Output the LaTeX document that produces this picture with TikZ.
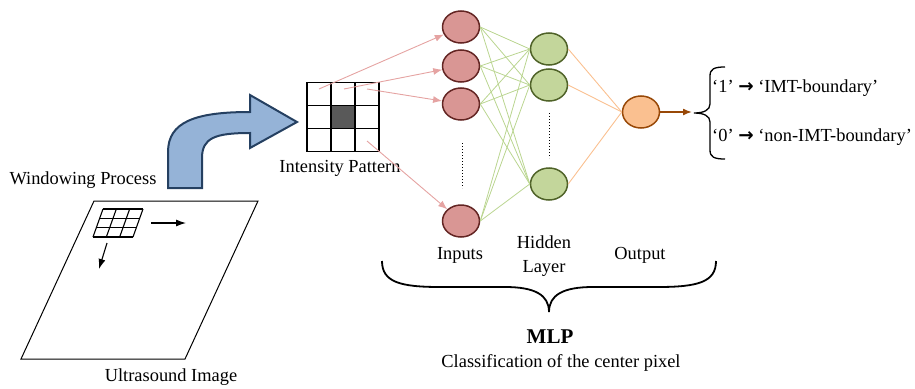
\documentclass[tikz,border=0pt]{standalone}
\usepackage{fontspec}
\setmainfont{Liberation Serif}
\newfontfamily\arrowfont{DejaVu Sans}
\usepackage{xcolor}
\usepackage{tikz}
\usetikzlibrary{arrows.meta}
\usetikzlibrary{shapes.geometric}

\definecolor{inpfill}{HTML}{D99694}
\definecolor{inpdraw}{HTML}{632523}
\definecolor{hidfill}{HTML}{C3D69B}
\definecolor{hiddraw}{HTML}{4F6228}
\definecolor{outfill}{HTML}{FAC090}
\definecolor{outdraw}{HTML}{984807}
\definecolor{redline}{HTML}{E5A3A2}
\definecolor{greenline}{HTML}{BAD590}
\definecolor{orangeline}{HTML}{FAC090}
\definecolor{bluefill}{HTML}{95B3D7}
\definecolor{bluedraw}{HTML}{254061}
\definecolor{gridgray}{HTML}{595959}

\begin{document}
\begin{tikzpicture}[x=1pt,y=-1pt,
    every node/.style={font=\fontsize{18.4}{24}\selectfont, inner sep=0pt},
    neuron/.style={ellipse, minimum width=37pt, minimum height=32pt, line width=1.5pt},
    inp/.style={neuron, fill=inpfill, draw=inpdraw},
    hid/.style={neuron, fill=hidfill, draw=hiddraw},
    outp/.style={neuron, fill=outfill, draw=outdraw},
    cell/.style={draw, line width=1.6pt, minimum width=24pt, minimum height=23pt},
    redarrow/.style={draw=redline, line width=0.9pt, -{Latex[length=9pt,width=7pt]}},
    greenlink/.style={draw=greenline, line width=0.8pt},
    orangelink/.style={draw=orangeline, line width=0.9pt},
    movearrow/.style={line width=1.1pt, -{Latex[length=10pt,width=7pt]}},
    vdots/.style={line width=0.9pt, dash pattern=on 1pt off 2pt}]
    \useasboundingbox (0,0) rectangle (915,388);

    % Image ultrason
    \draw[line width=1pt] (94,201) -- (258,201) -- (185,359) -- (21,359) -- cycle;
    \foreach \k in {0,1,2,3} {
        \draw[line width=1.1pt] ({103+\k*40/3},209) -- ({93+\k*40/3},237);
        \draw[line width=1.1pt] ({103-\k*10/3},{209+\k*28/3}) -- ({143-\k*10/3},{209+\k*28/3});
    }
    \coordinate (ra) at (151,223);
    \coordinate (rb) at (186,223);
    \coordinate (da) at (107,243);
    \coordinate (db) at (99,269);
    \draw[movearrow] (ra) -- (rb);
    \draw[movearrow] (da) -- (db);
    \node (win) at (83,180) {Windowing Process};
    \node (us) at (171,377) {Ultrasound Image};

    % Fleche courbe
    \draw[fill=bluefill, draw=bluedraw, line width=2pt, line join=miter]
        (168,188) -- (168,152) .. controls (168,122) and (195,112) .. (250,112)
        -- (250,95) -- (297,122) -- (250,148) -- (250,133)
        .. controls (215,133) and (202,138) .. (202,158) -- (202,188) -- cycle;

    % Motif d'intensite
    \foreach \r in {1,2,3} {
        \foreach \c in {1,2,3} {
            \ifnum\r\c=22 \def\cellcol{gridgray}\else\def\cellcol{white}\fi
            \node[cell, fill=\cellcol] (c\r\c) at ({295+24*\c},{71+23*\r}) {};
        }
    }
    \node (pat) at (340,168) {Intensity Pattern};

    % Neurones
    \node[inp] (i1) at (461,27) {};
    \node[inp] (i2) at (461,66) {};
    \node[inp] (i3) at (461,104) {};
    \node[inp] (i4) at (461,221) {};
    \node[hid] (h1) at (549,49) {};
    \node[hid] (h2) at (549,85) {};
    \node[hid] (h3) at (549,184) {};
    \node[outp] (o) at (641,112) {};
    \draw[vdots] (462,143) -- (462,188);
    \draw[vdots] (549,113) -- (549,158);

    % Liaisons
    \coordinate (p1) at (319,89);
    \coordinate (p2) at (344,89);
    \coordinate (p3) at (367,89);
    \coordinate (p4) at (367,141);
    \foreach \k in {1,2,3,4}
        \draw[redarrow] (p\k) -- (i\k);
    \foreach \i in {1,2,3,4}
        \foreach \j in {1,2,3}
            \draw[greenlink] (i\i.east) -- (h\j.west);
    \foreach \j in {1,2,3}
        \draw[orangelink] (h\j.east) -- (o.west);
    \coordinate (oend) at (692,112);
    \draw[draw=outdraw, line width=1.5pt, -{Latex[length=9pt,width=7pt]}] (o) -- (oend);

    % Sorties
    \draw[line width=1.3pt] (725,67) .. controls (714,67) and (710,69) .. (710,76) -- (710,104)
        .. controls (710,110) and (704,113) .. (694,113)
        .. controls (704,113) and (710,116) .. (710,122) -- (710,150)
        .. controls (710,157) and (714,159) .. (725,159);
    \node[anchor=west] (lab1) at (712,88) {‘1’ {\arrowfont\bfseries →} ‘IMT-boundary’};
    \node[anchor=west] (lab0) at (712,137) {‘0’ {\arrowfont\bfseries →} ‘non-IMT-boundary’};

    % Couches
    \node (tin) at (460,255) {Inputs};
    \node[align=center] (thid) at (544,256) {Hidden\\Layer};
    \node (tout) at (640,255) {Output};
    \draw[line width=1.8pt] (382,261) .. controls (382,282) and (400,287) .. (440,287) -- (505,287)
        .. controls (535,287) and (549,295) .. (549,312)
        .. controls (549,295) and (563,287) .. (593,287) -- (658,287)
        .. controls (698,287) and (716,282) .. (716,261);
    \node (mlp) at (550,337) {\fontsize{21}{24}\selectfont\bfseries MLP};
    \node (cls) at (561,363) {Classification of the center pixel};
\end{tikzpicture}
\end{document}
